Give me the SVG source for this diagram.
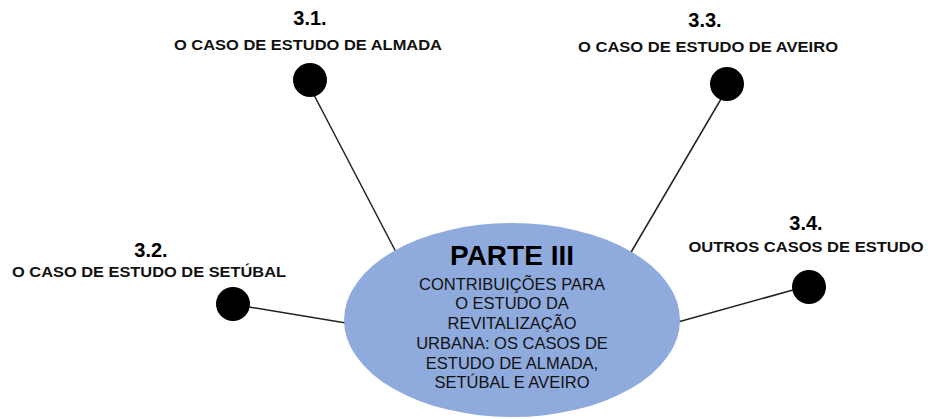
<svg xmlns="http://www.w3.org/2000/svg" width="928" height="419" viewBox="0 0 928 419">
<style>
.num{font-family:"Liberation Sans",Arial,sans-serif;font-weight:bold;font-size:20px;fill:#000;text-anchor:middle}
.lbl{font-family:"Liberation Sans",Arial,sans-serif;font-weight:bold;font-size:15.5px;fill:#111;text-anchor:middle}
.dot{fill:#000}
.conn{stroke:#222;stroke-width:1.5;fill:none}
.title{font-family:"Liberation Sans",Arial,sans-serif;font-weight:bold;font-size:28px;fill:#000;text-anchor:middle}
.body{font-family:"Liberation Sans",Arial,sans-serif;font-size:16.5px;fill:#111;text-anchor:middle}
</style>
<rect width="928" height="419" fill="#fff"/>
<g id="connectors">
<line class="conn" x1="314" y1="95" x2="397" y2="254"/>
<line class="conn" x1="721" y1="99" x2="630" y2="254"/>
<line class="conn" x1="249" y1="307" x2="346" y2="323"/>
<line class="conn" x1="793" y1="290" x2="678" y2="322"/>
</g>
<g id="center">
<ellipse cx="512" cy="320" rx="168" ry="97" fill="#8FAADC"/>
<text class="title" x="512" y="265">PARTE III</text>
<text class="body" x="512" y="290">CONTRIBUIÇÕES PARA</text>
<text class="body" x="512" y="309">O ESTUDO DA</text>
<text class="body" x="512" y="329">REVITALIZAÇÃO</text>
<text class="body" x="512" y="349">URBANA: OS CASOS DE</text>
<text class="body" x="512" y="369">ESTUDO DE ALMADA,</text>
<text class="body" x="512" y="388">SETÚBAL E AVEIRO</text>
</g>
<g id="n31">
<circle class="dot" cx="310" cy="80" r="17"/>
<text class="num" x="310" y="25">3.1.</text>
<text class="lbl" x="308" y="50" textLength="268" lengthAdjust="spacingAndGlyphs">O CASO DE ESTUDO DE ALMADA</text>
</g>
<g id="n32">
<circle class="dot" cx="233" cy="304" r="17"/>
<text class="num" x="151" y="257">3.2.</text>
<text class="lbl" x="149" y="277" textLength="274" lengthAdjust="spacingAndGlyphs">O CASO DE ESTUDO DE SETÚBAL</text>
</g>
<g id="n33">
<circle class="dot" cx="727" cy="84" r="17"/>
<text class="num" x="705" y="27">3.3.</text>
<text class="lbl" x="708" y="52" textLength="260" lengthAdjust="spacingAndGlyphs">O CASO DE ESTUDO DE AVEIRO</text>
</g>
<g id="n34">
<circle class="dot" cx="809" cy="287" r="17"/>
<text class="num" x="806" y="230">3.4.</text>
<text class="lbl" x="806" y="252" textLength="235" lengthAdjust="spacingAndGlyphs">OUTROS CASOS DE ESTUDO</text>
</g>
</svg>
